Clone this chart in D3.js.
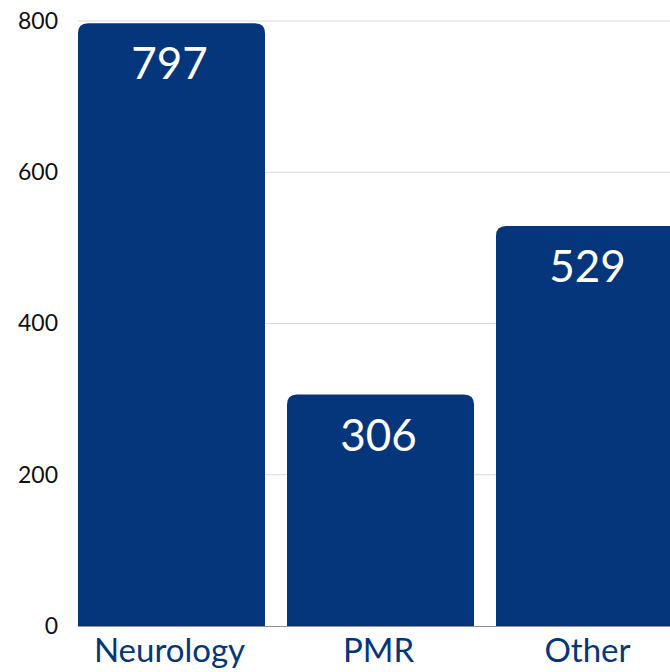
<!DOCTYPE html>
<html>
<head>
<meta charset="utf-8">
<script src="https://cdn.jsdelivr.net/npm/d3@7"></script>
<style>
  body { margin: 0; background: #fff; }
  svg { display: block; font-family: "Lato", "Noto Sans", sans-serif; }
</style>
</head>
<body>
<div id="chart"></div>
<script>
// data
var categories = ["Neurology", "PMR", "Other"];
var values = [797, 306, 529];
var yTicks = [0, 200, 400, 600, 800];

var W = 670, H = 672;
var margin = { top: 21, left: 78, bottom: 46 };
var plotH = H - margin.top - margin.bottom; // 605

var svg = d3.select("#chart").append("svg")
    .attr("width", W)
    .attr("height", H);

var yScale = d3.scaleLinear().domain([0, 800]).range([margin.top + plotH, margin.top]);

// band runs past the right edge, the last bar is cut off like in the picture
var xScale = d3.scaleBand()
    .domain(categories)
    .range([margin.left, margin.left + 3 * 209 - 22])
    .paddingInner(22 / 209)
    .paddingOuter(0);

// gridlines
svg.append("g")
    .selectAll("line")
    .data(yTicks.filter(function (d) { return d > 0; }))
    .enter().append("line")
    .attr("x1", margin.left)
    .attr("x2", W)
    .attr("y1", function (d) { return yScale(d); })
    .attr("y2", function (d) { return yScale(d); })
    .attr("stroke", "#d9d9d9")
    .attr("stroke-width", 1);

// y axis labels
var yAxis = d3.axisLeft(yScale).tickValues(yTicks).tickSize(0).tickPadding(0);
svg.append("g")
    .attr("transform", "translate(58,0)")
    .call(yAxis)
    .call(function (g) { g.select(".domain").remove(); })
    .selectAll("text")
    .attr("fill", "#111")
    .style("font-size", "23px")
    .style("font-family", "Lato, 'Noto Sans', sans-serif");

// bars with rounded top corners
function barPath(d, i) {
    var x0 = xScale(categories[i]), w = xScale.bandwidth();
    var y0 = yScale(d), y1 = yScale(0), r = 10;
    return "M" + x0 + "," + y1 +
        "V" + (y0 + r) +
        "Q" + x0 + "," + y0 + " " + (x0 + r) + "," + y0 +
        "H" + (x0 + w - r) +
        "Q" + (x0 + w) + "," + y0 + " " + (x0 + w) + "," + (y0 + r) +
        "V" + y1 + "Z";
}

svg.selectAll(".bar")
    .data(values).enter()
    .append("path")
    .attr("class", "bar")
    .attr("d", barPath)
    .attr("fill", "#05367c");

// baseline
svg.append("line")
    .attr("x1", margin.left)
    .attr("x2", W)
    .attr("y1", yScale(0) + 0.5)
    .attr("y2", yScale(0) + 0.5)
    .attr("stroke", "#8a8f99")
    .attr("stroke-width", 1);

// value labels inside bars
svg.selectAll(".val")
    .data(values).enter()
    .append("text")
    .attr("class", "val")
    .attr("x", function (d, i) { return xScale(categories[i]) + xScale.bandwidth() / 2 - 2; })
    .attr("y", function (d) { return yScale(d) + 56; })
    .attr("text-anchor", "middle")
    .attr("fill", "#fff")
    .style("font-size", "44px")
    .text(function (d) { return d; });

// x axis labels
var xAxis = d3.axisBottom(xScale).tickSize(0).tickPadding(0);
svg.append("g")
    .attr("transform", "translate(0," + yScale(0) + ")")
    .call(xAxis)
    .call(function (g) { g.select(".domain").remove(); })
    .selectAll("text")
    .attr("dy", null)
    .attr("y", 36)
    .attr("x", -2)
    .attr("fill", "#05367c")
    .style("font-size", "33px")
    .style("font-family", "Lato, 'Noto Sans', sans-serif");
</script>
</body>
</html>
